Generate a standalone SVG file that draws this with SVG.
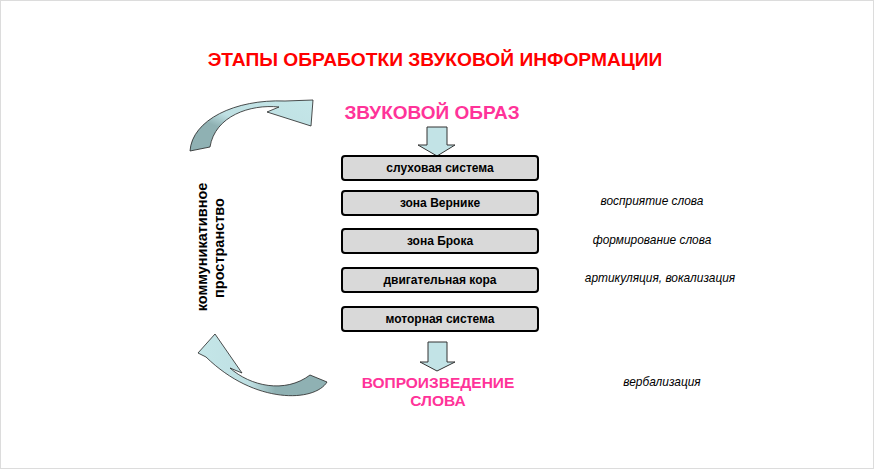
<svg xmlns="http://www.w3.org/2000/svg" width="874" height="469" viewBox="0 0 874 469">
<defs>
<style>
.box{fill:#d9d9d9;stroke:#000;stroke-width:2}
.bt{font-family:"Liberation Sans",Arial,sans-serif;font-size:12px;font-weight:bold;text-anchor:middle;fill:#000}
.it{font-family:"Liberation Sans",Arial,sans-serif;font-size:11.9px;font-style:italic;text-anchor:middle;fill:#000}
.pk{font-family:"Liberation Sans",Arial,sans-serif;font-weight:bold;text-anchor:middle;fill:#ff3399}
.vt{font-family:"Liberation Sans",Arial,sans-serif;font-size:14.5px;font-weight:bold;text-anchor:middle;fill:#000}
.down{fill:#c2e3e6;stroke:#333;stroke-width:1}
.curve{stroke:#222;stroke-width:0.8}
</style>
<linearGradient id="g1" x1="0" y1="1" x2="1" y2="0">
<stop offset="0" stop-color="#8fb1b3"/><stop offset="0.35" stop-color="#8fb1b3"/><stop offset="0.5" stop-color="#bfe0e3"/><stop offset="1" stop-color="#c4e6e8"/>
</linearGradient>
<linearGradient id="g2" x1="0" y1="0" x2="1" y2="0">
<stop offset="0" stop-color="#c4e6e8"/><stop offset="0.4" stop-color="#bfe0e3"/><stop offset="0.6" stop-color="#8fb1b3"/><stop offset="1" stop-color="#8fb1b3"/>
</linearGradient>
</defs>
<rect x="0.5" y="0.5" width="873" height="468" fill="#fff" stroke="#dcdcdc"/>
<text x="435" y="66" font-family="Liberation Sans, Arial, sans-serif" font-size="19.2" font-weight="bold" fill="#ff0000" text-anchor="middle">ЭТАПЫ ОБРАБОТКИ ЗВУКОВОЙ ИНФОРМАЦИИ</text>
<g id="start"><text class="pk" x="432" y="119" font-size="19">ЗВУКОВОЙ ОБРАЗ</text></g>
<g id="connectors">
<path class="down" d="M427,127 H447 V145 H455 L437,156 L418,145 H427 Z"/>
<path class="down" d="M428,342 H447 V362 H455 L437,371 L420,362 H428 Z"/>
<path class="curve" fill="url(#g1)" d="M190,151 C192,120 235,99 285,101 L313,100 L311,126 L267,112 L279,107 C250,104 215,116 210,147 Z"/>
<path class="curve" fill="url(#g2)" d="M198,353 L215,334 L242,373 L230,368 C250,386 285,394 310,375 L327,382 C315,402 255,405 206,357 Z"/>
</g>
<g id="n1"><rect class="box" x="342" y="156" width="196" height="24" rx="3"/><text class="bt" x="440" y="172">слуховая система</text></g>
<g id="n2"><rect class="box" x="342" y="191" width="196" height="24" rx="3"/><text class="bt" x="440" y="207">зона Вернике</text></g>
<g id="n3"><rect class="box" x="342" y="229" width="196" height="24" rx="3"/><text class="bt" x="440" y="245">зона Брока</text></g>
<g id="n4"><rect class="box" x="342" y="268" width="196" height="24" rx="3"/><text class="bt" x="440" y="284">двигательная кора</text></g>
<g id="n5"><rect class="box" x="342" y="307" width="196" height="24" rx="3"/><text class="bt" x="440" y="323">моторная система</text></g>
<g id="end"><text class="pk" x="438" y="388" font-size="15.5">ВОПРОИЗВЕДЕНИЕ</text><text class="pk" x="438" y="406" font-size="15.5">СЛОВА</text></g>
<g id="labels">
<text class="it" x="652" y="205">восприятие слова</text>
<text class="it" x="652" y="244">формирование слова</text>
<text class="it" x="660" y="282">артикуляция, вокализация</text>
<text class="it" x="662" y="386">вербализация</text>
</g>
<g id="space">
<text class="vt" transform="translate(207,247) rotate(-90)">коммуникативное</text>
<text class="vt" transform="translate(224,248) rotate(-90)">пространство</text>
</g>
</svg>
